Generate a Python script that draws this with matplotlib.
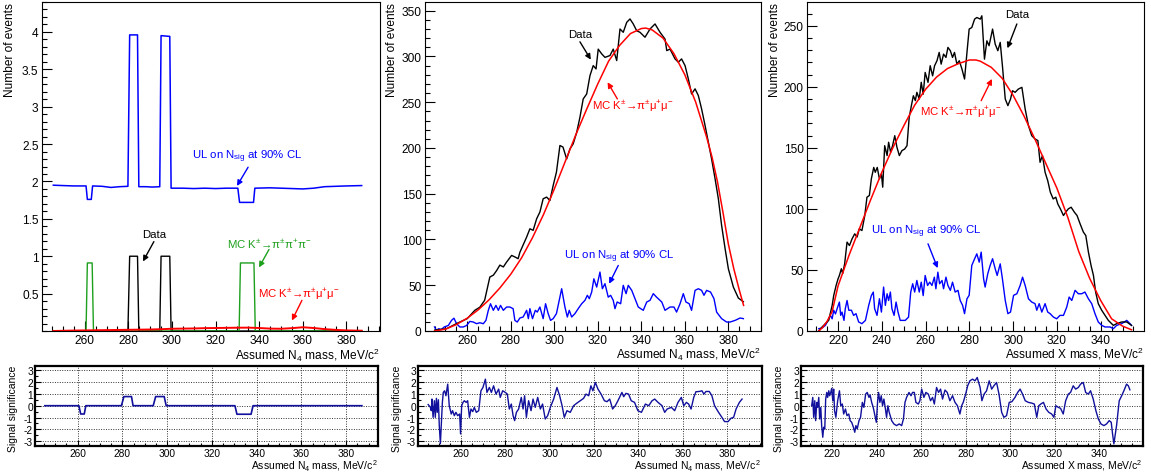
import matplotlib
matplotlib.use('Agg')
import matplotlib.pyplot as plt
from matplotlib.ticker import MultipleLocator, FixedLocator

plt.rcParams['font.family'] = ['Liberation Sans', 'DejaVu Sans']
plt.rcParams['mathtext.fontset'] = 'custom'
plt.rcParams['mathtext.rm'] = 'Liberation Sans'
plt.rcParams['mathtext.it'] = 'Liberation Sans:italic'
plt.rcParams['mathtext.bf'] = 'Liberation Sans:bold'
plt.rcParams['mathtext.default'] = 'regular'
plt.rcParams['axes.unicode_minus'] = False

# ---------------- data: panel 1 (N4, low statistics) ----------------
ul1_x = [245.6, 250, 255, 260.6, 261.2, 263.0, 263.6, 268, 272, 276, 279.8, 280.6, 284.2, 284.8,
         288, 291, 294.4, 295.0, 299.0, 299.6, 305, 310, 315, 320, 325, 330.2, 331.0, 337.4, 338.0,
         345, 350, 355, 360, 365, 370, 375, 380, 387.0]
ul1_y = [1.95, 1.945, 1.94, 1.94, 1.76, 1.76, 1.94, 1.935, 1.92, 1.93, 1.935, 3.96, 3.96, 1.93,
         1.93, 1.925, 1.93, 3.95, 3.94, 1.91, 1.91, 1.905, 1.91, 1.905, 1.91, 1.91, 1.72, 1.72, 1.91,
         1.915, 1.91, 1.905, 1.90, 1.91, 1.93, 1.935, 1.94, 1.945]
data1_x = [245.6, 279.8, 280.6, 284.2, 284.8, 294.4, 295.0, 299.0, 299.6, 387.0]
data1_y = [0, 0, 1, 1, 0, 0, 1, 1, 0, 0]
pi3_1_x = [245.6, 260.6, 261.2, 263.4, 264.0, 330.8, 331.4, 337.6, 338.2, 387.0]
pi3_1_y = [0, 0, 0.91, 0.91, 0, 0, 0.91, 0.91, 0, 0]
mumu1_x = [245.6, 250, 255, 260, 265, 270, 275, 280, 285, 290, 295, 300, 305, 310, 315, 320, 325,
           330, 335, 340, 345, 350, 355, 360, 365, 370, 375, 380, 387]
mumu1_y = [0.0, 0.003, 0.006, 0.008, 0.01, 0.012, 0.014, 0.016, 0.018, 0.02, 0.024, 0.03, 0.032,
           0.034, 0.038, 0.04, 0.042, 0.044, 0.045, 0.04, 0.032, 0.03, 0.038, 0.05, 0.04, 0.025,
           0.015, 0.008, 0.004]
sig1_x = [245.4, 260.6, 261.4, 263.0, 263.7, 279.6, 280.7, 284.1, 284.8, 293.8, 294.9, 298.7, 299.6,
          330.3, 331.2, 337.5, 338.4, 387.0]
sig1_y = [0, 0, -0.7, -0.7, 0, 0, 0.77, 0.77, 0, 0, 0.77, 0.77, 0, 0, -0.72, -0.72, 0, 0]

# ---------------- data: panel 2 (N4) ----------------
data2_x = [245.1, 250.5, 255.0, 260.0, 263.5, 265.8, 268.0, 270.4, 272.0, 273.5, 275.0, 276.6, 278.0,
           280.4, 282.0, 283.4, 284.2, 287.3, 288.8, 290.3, 291.9, 293.4, 294.9, 296.5, 298.0, 299.5,
           301.0, 302.6, 304.0, 305.7, 307.2, 308.7, 310.3, 311.8, 313.3, 314.9, 316.4, 317.9, 319.2,
           320.2, 321.8, 323.3, 325.6, 327.1, 328.7, 330.2, 331.7, 333.3, 334.8, 336.3, 337.9, 339.4,
           341.7, 344.0, 346.3, 348.6, 350.9, 351.7, 353.2, 355.5, 357.0, 358.5, 360.1, 361.6, 363.1,
           364.7, 366.2, 367.7, 369.3, 370.8, 372.3, 373.9, 375.4, 376.9, 378.5, 380.0, 382.3, 384.6,
           386.9]
data2_y = [1, 2.5, 8, 13.5, 22.6, 26, 33.5, 59, 61, 66, 72, 70, 75, 82.6, 80.8, 79, 86, 102.6, 111.7,
           110, 122.6, 130, 144.5, 146.3, 142.6, 159, 173.6, 202.7, 201, 188, 199, 204.5, 217, 233.6,
           253.6, 259, 279, 290, 286.4, 308, 302.8, 299, 301, 308, 295.5, 330, 326.4, 337.3, 341,
           335.5, 328, 326.4, 321, 330, 335.5, 326.4, 319, 306.4, 308, 297.3, 293.7, 297.3, 290,
           275.5, 259, 264.6, 257.3, 242.7, 224.5, 206.3, 188, 166.3, 144.5, 115.4, 90, 68, 48,
           36, 32]
mc2_x = [245.0, 250, 255, 260, 265, 270, 275, 280, 285, 290, 295, 300, 305, 310, 315, 320, 325, 330,
         335, 340, 342, 345, 350, 355, 360, 365, 370, 372.5, 375, 377.5, 380, 382.5, 385, 387]
mc2_y = [0, 2, 7, 14, 23, 34, 47, 62, 80, 102, 127, 155, 185, 215, 243, 270, 295, 312, 325, 330.5,
         331, 329, 320, 303, 280, 250, 212, 190, 163, 130, 95, 68, 45, 28]
ul2_x = [245.0, 245.8, 246.9, 248.0, 249.5, 251.3, 252.8, 253.9, 255.1, 256.6, 258.2, 259.7, 261.2,
         262.8, 264.3, 265.8, 267.4, 268.6, 269.7, 270.7, 272.0, 273.2, 274.3, 275.3, 276.6, 278.1,
         279.6, 281.1, 281.9, 283.0, 284.2, 285.7, 287.3, 288.1, 288.8, 290.0, 291.3, 292.2, 293.4,
         294.9, 296.0, 297.2, 298.3, 299.5, 301.0, 303.4, 304.9, 306.0, 306.9, 308.0, 309.5, 311.0,
         312.6, 314.1, 315.2, 316.1, 317.2, 318.2, 319.5, 321.0, 322.1, 323.3, 324.8, 325.9, 327.1,
         327.9, 328.9, 330.5, 331.7, 333.0, 334.0, 335.6, 337.1, 338.6, 340.9, 342.5, 344.0, 345.5,
         347.0, 349.4, 350.9, 353.2, 355.0, 356.2, 357.8, 359.3, 360.5, 362.0, 363.1, 364.7, 366.2,
         367.7, 368.8, 370.0, 371.8, 373.4, 374.6, 376.9, 379.2, 380.8, 383.1, 385.4, 386.9]
ul2_y = [4.4, 0.7, 2.5, 1.5, 4.5, 6, 11.6, 14, 8, 4.4, 4.4, 6, 10.5, 9.8, 8, 9, 8, 11.6, 22.6, 29.8,
         22.6, 28, 22.6, 28, 22.6, 26.2, 26.2, 24.4, 11.6, 9.8, 14.2, 15.3, 22.6, 13.5, 24.4, 13.5,
         22.6, 20.7, 26.2, 13.5, 29.8, 19, 11.6, 13.5, 19, 46.2, 26.2, 15.3, 22.6, 15.3, 19, 24.4,
         29.8, 33.5, 39, 35.3, 42.6, 57, 48, 64.4, 46.2, 51.7, 37, 39, 33.5, 24.4, 31.7, 29.8, 49.9,
         40.8, 49.9, 44.4, 35.3, 26.2, 22.6, 31.7, 33.5, 40.8, 37, 31.7, 22.6, 26.2, 26.2, 20.7,
         29.8, 40.8, 31.7, 29.8, 22.6, 44.4, 46.2, 44.4, 39, 44.4, 42.6, 35.3, 20.7, 13.5, 9.8,
         9.8, 11.6, 14.2, 13.5]
sig2_x = [245.2, 246.2, 246.6, 246.9, 247.4, 248.0, 248.4, 248.9, 249.3, 249.8, 250.2, 250.7, 251.1,
          251.6, 252.0, 252.6, 253.2, 254.0, 254.7, 255.6, 256.2, 257.0, 257.7, 258.5, 259.4, 259.8,
          260.3, 260.9, 261.5, 262.3, 263.0, 263.8, 264.5, 265.3, 266.0, 266.9, 268.0, 269.0, 269.9,
          271.0, 271.7, 272.8, 273.7, 274.7, 275.8, 277.0, 277.7, 278.8, 280.0, 280.9, 281.8, 282.7,
          283.5, 284.2, 285.0, 286.0, 287.2, 288.0, 288.7, 289.5, 290.5, 291.6, 292.5, 293.5, 294.6,
          295.8, 296.8, 298.0, 299.1, 300.3, 301.8, 303.3, 304.5, 305.6, 306.6, 307.8, 309.3, 310.8,
          312.3, 313.8, 315.3, 316.4, 317.6, 318.6, 319.5, 320.6, 321.8, 323.2, 324.7, 325.9, 327.1,
          328.4, 329.6, 330.8, 332.6, 333.4, 334.4, 335.6, 336.8, 338.3, 339.8, 341.4, 343.2, 344.7,
          346.2, 347.4, 348.9, 350.7, 351.9, 353.0, 354.9, 356.4, 357.9, 359.4, 360.5, 361.7, 362.7,
          363.8, 365.0, 366.0, 367.5, 368.7, 369.6, 370.5, 372.0, 373.2, 374.4, 376.2, 377.7, 378.9,
          380.5, 381.8, 383.0, 384.1, 385.6, 386.8]
sig2_y = [0.1, -0.14, -0.42, 0.56, -0.98, 0.42, -0.98, 0.62, -0.56, 0.5, -1.68, -3.2, -1.68, 0.28,
          1.12, 1.26, 0.84, 1.82, 0, -0.7, -0.42, -0.84, -0.56, -0.84, -0.7, -2.38, 0, 0.28, 0.42,
          0.28, 0.42, -0.98, -0.28, -0.5, -0.14, -0.56, -0.42, 1.26, 1.54, 2.24, 1.12, 1.54, 1.12,
          1.68, 0.98, 1.4, 0.7, 1.26, 1.12, 0.98, -0.28, 0.14, -0.84, -1.26, -0.56, -0.28, 0.7,
          -0.28, 0.84, -0.98, 0.42, -0.42, 0.56, -0.14, 0.7, -0.28, 0.14, -1.12, -0.84, -0.14,
          0.56, 1.54, 0.84, 0, -0.98, -0.42, -0.56, 0, 0.22, 0.42, 0.62, 0.98, 0.84, 1.68, 1.26,
          1.96, 1.4, 0.98, 0.42, 0.34, 0.56, -0.28, 0, 0.42, 1.12, 0.76, 1.04, 0.98, 0.42, 0.28,
          -0.42, -0.56, 0.14, 0, 0.42, 0.56, 0.28, 0, -0.56, -0.28, -0.14, -0.42, 0.28, 0.7, 0,
          0.28, 0.14, -0.28, 0.7, 1.18, 1.2, 1.26, 0.98, 1.2, 1.2, 0.84, 0, -0.56, -0.98, -1.34,
          -1.34, -1.06, -0.98, -0.28, 0.28, 0.56]

# ---------------- data: panel 3 (X) ----------------
data3_x = [211.2, 212.7, 214.2, 215.7, 217.3, 218.0, 219.1, 220.0, 220.6, 221.5, 222.1, 223.0, 224.1,
           225.2, 226.4, 227.6, 228.7, 229.7, 230.9, 232.2, 233.2, 234.3, 235.2, 236.3, 237.0, 237.9,
           238.9, 239.8, 240.4, 241.3, 242.4, 243.1, 244.0, 244.9, 245.9, 246.9, 248.0, 249.2, 250.4,
           251.5, 252.5, 253.5, 254.4, 255.3, 256.0, 257.1, 258.0, 258.9, 259.8, 261.1, 262.1, 263.2,
           264.1, 265.2, 266.2, 267.1, 268.2, 269.3, 270.2, 271.3, 272.3, 273.2, 274.3, 275.4, 276.6,
           277.8, 278.9, 279.9, 281.1, 282.4, 283.4, 285.0, 285.7, 286.9, 288.0, 289.0, 290.6, 291.8,
           293.0, 294.1, 295.1, 296.4, 297.6, 298.8, 299.7, 300.9, 302.4, 304.0, 305.5, 307.0, 308.5,
           310.0, 311.3, 312.3, 313.4, 314.6, 315.8, 317.0, 318.3, 319.5, 320.4, 321.6, 323.0, 324.0,
           325.2, 326.5, 328.0, 329.2, 330.6, 332.1, 333.2, 334.4, 335.6, 336.7, 337.7, 338.9, 340.5,
           342.0, 343.5, 345.8, 347.3, 349.6, 351.9, 354.1]
data3_y = [0, 3.3, 6, 8.7, 21, 29, 37.3, 42.8, 45.5, 51, 47, 55, 72.8, 70, 75.5, 79.6, 77, 83.7, 82.3,
           94.6, 109.6, 111, 124.6, 134, 130, 134, 124.6, 128.7, 117.8, 151.8, 143.7, 154.6, 146.4,
           151.8, 160, 150.5, 143.7, 147.8, 149, 151.8, 175, 184.6, 192.7, 188.7, 195.5, 190, 203.7,
           194, 211.8, 203.7, 217.3, 209, 217.3, 221.4, 228.2, 218.6, 226.8, 224.1, 232.3, 229.6,
           224.1, 228.2, 218.6, 221.4, 214.6, 206.4, 228.2, 247.3, 248.6, 255.5, 256.8, 255.5, 258.2,
           222.7, 237.7, 233.7, 247.3, 235, 229.6, 236.4, 217.3, 190, 184.6, 190, 196.8, 195.5, 198.2,
           199.6, 181.8, 168.2, 160, 157.3, 156, 138.2, 143.7, 130, 123.2, 113.7, 108.2, 109.6, 104.1,
           100, 94.6, 97.3, 100, 101.4, 97.3, 94.6, 87.8, 81, 78.2, 64.6, 53.7, 45.5, 31.9, 22.4, 16.9,
           12.8, 8.7, 4.6, 6, 7.4, 7.4, 4.6]
mc3_x = [211.2, 213, 215, 217.3, 220, 225, 230, 235, 240, 245, 250, 255, 260, 265, 270, 275, 280, 283,
         285, 290, 295, 300, 305, 310, 315, 320, 325, 330, 335, 340, 345, 350, 354.1]
mc3_y = [0, 3, 8, 16, 37, 62, 85, 108, 130, 150, 168, 185, 198, 208, 215, 219, 222, 222, 221, 216,
         207, 193, 176, 157, 137, 117, 93, 65, 43, 25, 10, 4, 1]
ul3_x = [211.2, 212.7, 214.2, 215.4, 216.5, 217.3, 218.0, 218.8, 219.7, 220.6, 221.2, 221.8, 222.7,
         223.3, 224.1, 224.9, 226.1, 227.1, 228.2, 229.4, 230.9, 232.5, 234.0, 235.2, 236.1, 236.7,
         237.8, 238.9, 239.8, 240.8, 241.6, 242.4, 243.1, 243.9, 244.6, 245.6, 246.5, 247.4, 248.4,
         250.7, 252.2, 253.2, 254.1, 255.0, 256.0, 257.1, 258.0, 258.9, 259.8, 260.9, 261.9, 262.9,
         264.0, 264.7, 265.6, 266.4, 267.5, 268.2, 269.3, 270.2, 271.3, 272.3, 273.5, 274.8, 275.8,
         276.9, 277.8, 278.9, 279.9, 281.1, 282.4, 283.4, 284.5, 285.4, 286.5, 287.2, 288.4, 289.5,
         290.6, 291.8, 292.7, 294.1, 295.1, 296.4, 297.6, 298.8, 300.2, 301.7, 303.2, 304.3, 305.5,
         307.0, 308.5, 310.0, 310.8, 311.9, 313.1, 314.6, 315.8, 316.9, 318.4, 319.9, 321.4, 323.0,
         324.5, 325.6, 326.8, 328.3, 329.8, 331.3, 332.8, 334.4, 335.9, 337.4, 338.9, 340.5, 342.0,
         344.3, 345.8, 347.3, 349.6, 351.9, 353.4, 354.1]
ul3_y = [1.9, 2.5, 4.6, 8.7, 12.8, 10, 17, 14, 19, 23.7, 12.8, 15.5, 8.7, 18.3, 25, 17, 17, 12.8,
         14.2, 7.4, 6, 8.7, 21, 29, 31.9, 18.3, 12.8, 26.4, 15.5, 36, 21, 30.5, 25, 31.9, 18.3, 12.8,
         23.7, 15.5, 8.7, 8.7, 11.4, 31.9, 38.7, 31.9, 41.4, 31.9, 40, 29, 45.5, 37.3, 40, 37.3,
         44.1, 34.6, 48.2, 38.7, 41.4, 34.6, 44.1, 37.3, 33.3, 40, 31.9, 33.3, 25, 21, 14.2, 26.4,
         29.2, 53.7, 59.2, 63.2, 56.4, 64.6, 42.8, 36, 46.9, 53.7, 59.2, 51, 45.5, 55, 42.8, 25, 14.2,
         15.5, 29.2, 30.5, 37.3, 44.1, 37.3, 26.4, 23.7, 22.4, 17, 22.4, 15.5, 22.4, 15.5, 14.2,
         11.4, 10, 12.8, 12.8, 19.6, 27.8, 25, 33.3, 30.5, 30.5, 31.9, 26.4, 22.4, 14.2, 7.4, 4.6,
         3.3, 3.3, 1.9, 4.6, 6, 8.7, 6, 4.6]
sig3_x = [210.7, 211.2, 211.6, 212.1, 212.5, 213.0, 213.4, 213.9, 214.3, 214.8, 215.2, 215.7, 216.1,
          216.6, 217.0, 217.5, 217.9, 218.4, 218.8, 219.3, 219.7, 220.2, 220.6, 221.0, 221.6, 222.4,
          223.2, 223.8, 224.5, 225.1, 225.9, 226.6, 227.4, 228.0, 228.7, 229.5, 230.1, 230.6, 231.2,
          232.0, 232.7, 233.5, 234.2, 235.0, 235.7, 236.5, 237.0, 237.7, 238.4, 239.2, 239.8, 240.4,
          240.8, 241.4, 242.0, 242.6, 243.2, 243.9, 244.4, 245.0, 245.6, 246.7, 247.7, 248.9, 250.1,
          251.2, 252.0, 252.7, 253.4, 254.5, 255.4, 256.1, 256.9, 257.6, 258.7, 259.4, 260.2, 261.2,
          262.1, 263.2, 264.2, 265.1, 265.9, 266.9, 267.8, 268.7, 269.6, 270.7, 271.7, 272.9, 274.1,
          275.2, 276.3, 277.4, 278.2, 278.9, 280.0, 280.9, 281.9, 283.1, 284.2, 285.2, 286.5, 287.3,
          288.3, 289.4, 290.6, 291.7, 292.7, 293.9, 295.0, 296.2, 297.2, 298.4, 299.6, 300.8, 302.2,
          303.4, 304.5, 305.6, 306.8, 308.2, 309.7, 310.9, 312.0, 312.9, 313.8, 315.0, 316.2, 317.4,
          318.7, 319.7, 320.6, 321.7, 322.7, 323.9, 325.0, 326.2, 327.2, 328.4, 329.5, 330.7, 331.7,
          332.9, 334.0, 335.2, 336.2, 337.4, 338.6, 339.7, 340.9, 342.2, 343.4, 344.6, 345.5, 346.1,
          346.7, 347.9, 349.1, 350.2, 351.2, 352.4, 353.2, 353.9]
sig3_y = [0, 0.7, -0.98, 0.42, -1.26, 0.28, -0.14, 0.7, -1.12, -0.14, -1.68, -2.66, -1.82, -1.96, 0.56,
          1.12, 0.7, 1.26, 0.84, 1.12, 1.46, 0.42, 1.4, -0.42, -0.98, 0.42, 1.26, 0, 0.14, -0.7, -0.28,
          -0.84, -0.7, -1.26, -1.4, -1.82, -2.24, -1.68, -1.96, -1.26, -0.98, 0.28, -0.14, 0.98, 1.12,
          0.7, 0.9, 0.28, -0.14, -0.84, -1.4, 0.42, 1.12, 0.28, 0.84, 0, 0.56, -0.28, -0.98, 0, -0.56,
          -1.26, -1.54, -1.68, -1.54, -1.68, -1.12, 0.28, 0.7, 1.12, 0.84, 1.12, 1.12, 0.28, 0.14,
          0.42, 1.4, 0.7, 1.12, 0.98, 0.42, 0.7, 0.14, 1.54, 1.12, 1.4, 0.56, 1.32, 1.12, 0.42, 0.84,
          0.28, 0, -0.7, 0, 0.28, 0.98, 1.68, 2.1, 2.24, 2.1, 2.38, 1.54, 0.42, 0.98, 1.26, 2.1, 1.4,
          1.68, 1.96, 0.98, -0.56, -0.98, -0.84, 0.28, 0.34, 0.7, 1.12, 1.4, 0.98, 0.42, 0.28, 0.22,
          0.14, -0.98, 0, 0.14, 0.28, -0.28, -0.56, -0.7, -0.98, 0, -0.14, -0.22, -0.7, 0.42, 0.98,
          1.12, 1.68, 1.4, 1.54, 1.82, 1.96, 1.12, 0.98, 1.26, 0.56, -0.42, -1.12, -1.54, -1.68,
          -1.54, -1.26, -1.4, -2.38, -3.22, -1.68, 0.42, 0.84, 1.26, 1.82, 1.68, 1.34]

# ---------------- text ----------------
n4_title = r'Assumed N$_{4}$ mass, MeV/c$^{2}$'
x_title = r'Assumed X mass, MeV/c$^{2}$'
ul_text = r'UL on N$_{sig}$ at 90% CL'
mumu_text = r'MC K$^{\pm}$→π$^{\pm}$μ$^{+}$μ$^{-}$'
pipi_text = r'MC K$^{\pm}$→π$^{\pm}$π$^{+}$π$^{-}$'
y_top_title = 'Number of events'
y_bot_title = 'Signal significance'

BLUE = '#0000ff'
RED = '#ff0000'
GREEN = '#1ea01e'
NAVY = '#10109c'

W, H = 1151, 477
fig = plt.figure(figsize=(W / 100, H / 100), dpi=100)


def box(x0, y0, x1, y1):
    return [x0 / W, 1 - y1 / H, (x1 - x0) / W, (y1 - y0) / H]


def style_top(ax, xlim, ylim, ymaj, ymin):
    ax.set_xlim(*xlim)
    ax.set_ylim(*ylim)
    ax.xaxis.set_major_locator(MultipleLocator(20))
    ax.xaxis.set_minor_locator(MultipleLocator(5))
    ax.yaxis.set_major_locator(MultipleLocator(ymaj))
    ax.yaxis.set_minor_locator(MultipleLocator(ymin))
    ax.tick_params(which='both', direction='in', top=False, right=False, labelsize=8.6, pad=2.5)
    ax.tick_params(which='major', length=7, width=0.8)
    ax.tick_params(which='minor', length=3.5, width=0.8)
    for s in ax.spines.values():
        s.set_linewidth(0.8)


def style_bot(ax, xlim):
    ax.set_xlim(*xlim)
    ax.set_ylim(-3.4, 3.35)
    ax.xaxis.set_major_locator(MultipleLocator(20))
    ax.xaxis.set_minor_locator(MultipleLocator(5))
    ax.yaxis.set_major_locator(MultipleLocator(1))
    ax.yaxis.set_minor_locator(MultipleLocator(0.5))
    ax.tick_params(which='both', direction='in', top=False, right=False, labelsize=7.3, pad=1.5)
    ax.tick_params(which='major', length=4.5, width=0.8)
    ax.tick_params(which='minor', length=2.5, width=0.8)
    ax.grid(True, which='major', linestyle=(0, (1, 1.5)), color='#333333', linewidth=0.7)
    for s in ax.spines.values():
        s.set_linewidth(1.6)


def arrow(ax, tail, head, color):
    ax.annotate('', xy=head, xytext=tail,
                arrowprops=dict(arrowstyle='-|>', color=color, lw=1.0, mutation_scale=8,
                                shrinkA=0, shrinkB=0))


# ---------- top panel 1 ----------
ax1 = fig.add_axes(box(42, 3, 380, 332))
style_top(ax1, (240.4, 395.4), (0, 4.4), 0.5, 0.1)
ax1.yaxis.set_major_locator(FixedLocator([0.5, 1, 1.5, 2, 2.5, 3, 3.5, 4]))
ax1.set_yticklabels(['0.5', '1', '1.5', '2', '2.5', '3', '3.5', '4'])
ax1.plot(ul1_x, ul1_y, color=BLUE, lw=1.1)
ax1.plot(data1_x, data1_y, color='black', lw=1.0)
ax1.plot(pi3_1_x, pi3_1_y, color=GREEN, lw=1.0)
ax1.plot(mumu1_x, mumu1_y, color=RED, lw=1.4)
ax1.text(334.6, 2.34, ul_text, color=BLUE, fontsize=8.2, ha='center', va='center')
arrow(ax1, (334.9, 2.19), (329.8, 1.94), BLUE)
ax1.text(292.0, 1.30, 'Data', color='black', fontsize=8.2, ha='center', va='center')
arrow(ax1, (291.7, 1.195), (286.7, 0.93), 'black')
ax1.text(344.5, 1.17, pipi_text, color=GREEN, fontsize=8.2, ha='center', va='center')
arrow(ax1, (344.5, 1.09), (339.9, 0.85), GREEN)
ax1.text(358.0, 0.50, mumu_text, color=RED, fontsize=8.2, ha='center', va='center')
arrow(ax1, (359.6, 0.41), (355.0, 0.14), RED)

# ---------- top panel 2 ----------
ax2 = fig.add_axes(box(425, 3, 761, 332))
style_top(ax2, (240.6, 395.0), (0, 359.5), 50, 10)
ax2.plot(ul2_x, ul2_y, color=BLUE, lw=1.0)
ax2.plot(data2_x, data2_y, color='black', lw=1.0)
ax2.plot(mc2_x, mc2_y, color=RED, lw=1.1)
ax2.text(311.8, 324.6, 'Data', color='black', fontsize=8.2, ha='center', va='center')
arrow(ax2, (311.8, 316), (316.8, 296.5), 'black')
ax2.text(336.0, 246.3, mumu_text, color=RED, fontsize=8.2, ha='center', va='center')
arrow(ax2, (329.0, 253.6), (324.5, 271.8), RED)
ax2.text(329.8, 82.5, ul_text, color=BLUE, fontsize=8.2, ha='center', va='center')
arrow(ax2, (329.4, 71.6), (325.2, 51.6), BLUE)

# ---------- top panel 3 ----------
ax3 = fig.add_axes(box(807, 3, 1144, 332))
style_top(ax3, (205.8, 359.8), (0, 269.5), 50, 10)
ax3.plot(ul3_x, ul3_y, color=BLUE, lw=1.0)
ax3.plot(data3_x, data3_y, color='black', lw=1.0)
ax3.plot(mc3_x, mc3_y, color=RED, lw=1.1)
ax3.text(302.0, 259.7, 'Data', color='black', fontsize=8.2, ha='center', va='center')
arrow(ax3, (301.7, 251.5), (297.4, 231.6), 'black')
ax3.text(276.2, 180.0, mumu_text, color=RED, fontsize=8.2, ha='center', va='center')
arrow(ax3, (285.4, 188.7), (290.3, 206.5), RED)
ax3.text(260.4, 81.8, ul_text, color=BLUE, fontsize=8.2, ha='center', va='center')
arrow(ax3, (261.1, 71.4), (265.5, 51.5), BLUE)

# ---------- bottom panels ----------
b1 = fig.add_axes(box(35, 367, 378, 447))
style_bot(b1, (241.0, 394.2))
b1.plot(sig1_x, sig1_y, color=NAVY, lw=1.2)

b2 = fig.add_axes(box(418, 367, 762, 447))
style_bot(b2, (240.6, 395.8))
b2.plot(sig2_x, sig2_y, color=NAVY, lw=1.0)

b3 = fig.add_axes(box(801, 367, 1143, 447))
style_bot(b3, (205.9, 359.8))
b3.plot(sig3_x, sig3_y, color=NAVY, lw=1.0)

# ---------- axis titles ----------
def ftext(px, py, s, **kw):
    fig.text(px / W, 1 - py / H, s, **kw)

for px in (10.5, 392, 775.5):
    ftext(px, 3, y_top_title, rotation=90, ha='center', va='top', fontsize=8.6)
ftext(379.5, 355.0, n4_title, ha='right', va='center', fontsize=8.6)
ftext(760.5, 354.0, n4_title, ha='right', va='center', fontsize=8.6)
ftext(1143.5, 354.0, x_title, ha='right', va='center', fontsize=8.6)

for px in (13.5, 396.5, 778.5):
    ftext(px, 409, y_bot_title, rotation=90, ha='center', va='center', fontsize=7.5)
ftext(378.0, 466.0, n4_title, ha='right', va='center', fontsize=7.5)
ftext(760.5, 466.0, n4_title, ha='right', va='center', fontsize=7.5)
ftext(1143.0, 466.0, x_title, ha='right', va='center', fontsize=7.5)

fig.savefig('out.png', dpi=100)
